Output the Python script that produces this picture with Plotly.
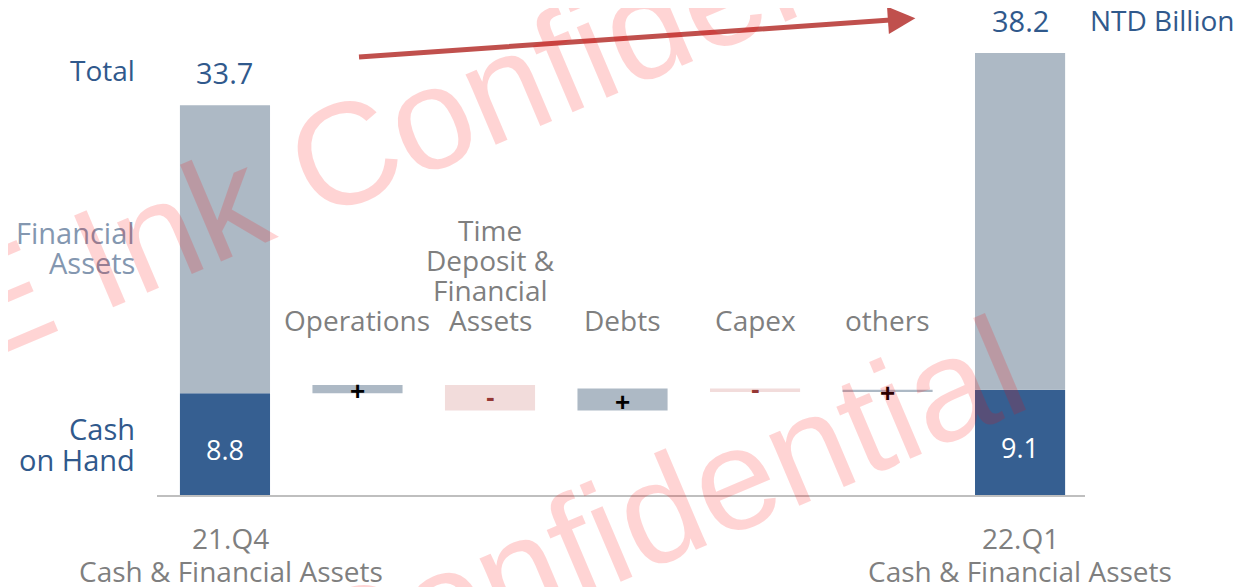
import plotly.graph_objects as go

# ---------------- data ----------------
period_labels = ["21.Q4", "22.Q1"]
period_subtitle = "Cash & Financial Assets"
cash_on_hand = [8.8, 9.1]
total_assets = [33.7, 38.2]
flow_labels = [["Operations"], ["Time", "Deposit &", "Financial", "Assets"], ["Debts"], ["Capex"], ["others"]]
flow_values = [0.7, -2.2, 1.9, -0.3, 0.2]
unit_label = "NTD Billion"
watermark_text = "E Ink Confidential"

# ---------------- styles ----------------
DARK_BLUE = "#365f91"
LIGHT_GREY = "#adb9c5"
PINK = "#f2dcdb"
TEXT_BLUE = "#30598c"
GREY_TEXT = "#7f7f7f"
FIN_TEXT = "#8497b0"
ARROW_RED = "#c0504d"
MINUS_RED = "#953735"
FONT = "Open Sans"

financial_assets = [t - c for t, c in zip(total_assets, cash_on_hand)]
period_x = [0, len(flow_values) + 1]
flow_x = list(range(1, len(flow_values) + 1))

flow_base = []
running = cash_on_hand[0]
for v in flow_values:
    flow_base.append(running)
    running += v

X_RANGE = [-0.513, 6.49]
Y_RANGE = [0, 39.33]
PAGE_OFF = 8          # default body margin of the html page
FIG_W, FIG_H = 1252, 579
M = dict(l=149, r=175, t=32, b=92)
PXU = 11.57           # pixels per y unit

def xp(x):
    return (x - X_RANGE[0]) / (X_RANGE[1] - X_RANGE[0])

def yp(y):
    return (y - Y_RANGE[0]) / (Y_RANGE[1] - Y_RANGE[0])

BW = 0.68
fig = go.Figure()
fig.add_trace(go.Bar(x=period_x, y=cash_on_hand, base=[0, 0], width=BW,
                     marker=dict(color=DARK_BLUE, line=dict(width=0)), hoverinfo="skip"))
fig.add_trace(go.Bar(x=period_x, y=financial_assets, base=cash_on_hand, width=BW,
                     marker=dict(color=LIGHT_GREY, line=dict(width=0)), hoverinfo="skip"))
fig.add_trace(go.Bar(x=flow_x, y=flow_values, base=flow_base, width=BW,
                     marker=dict(color=[LIGHT_GREY if v >= 0 else PINK for v in flow_values],
                                 line=dict(width=0)), hoverinfo="skip"))

ann = []

def txt(x, y, text, size, color, xanchor="center", yshift=0, xshift=0, family=FONT):
    ann.append(dict(x=xp(x), y=yp(y), xref="paper", yref="paper", text=text, showarrow=False,
                    font=dict(family=family, size=size, color=color),
                    xanchor=xanchor, yanchor="middle", yshift=yshift, xshift=xshift))

LEFT_X = -0.667

# totals
txt(period_x[0], total_assets[0], f"{total_assets[0]:.1f}", 29, TEXT_BLUE, yshift=33)
txt(period_x[1], total_assets[1], f"{total_assets[1]:.1f}", 29, TEXT_BLUE, yshift=33)
txt(6.51, total_assets[1], unit_label, 28, TEXT_BLUE, xanchor="left", yshift=33)
txt(LEFT_X, total_assets[0], "Total", 28, TEXT_BLUE, xanchor="right", yshift=35)

# left legend-like labels
txt(LEFT_X, 22.73, "Financial", 29, FIN_TEXT, xanchor="right")
txt(LEFT_X, 20.14, "Assets", 29, FIN_TEXT, xanchor="right")
txt(LEFT_X, 5.79, "Cash", 29, TEXT_BLUE, xanchor="right")
txt(LEFT_X, 3.03, "on Hand", 29, TEXT_BLUE, xanchor="right")

# cash values inside bars
for x, c in zip(period_x, cash_on_hand):
    txt(x, c / 2, f"{c:.1f}", 27, "white", yshift=-5)

# flow category labels (bottom-aligned lines)
line_step = 30 / PXU
for x, lines in zip(flow_x, flow_labels):
    n = len(lines)
    for i, line in enumerate(lines):
        txt(x, 15.13 + (n - 1 - i) * line_step, line, 28, GREY_TEXT)

# signs on flow bars
for x, b, v in zip(flow_x, flow_base, flow_values):
    mid = b + v / 2
    if v >= 0:
        txt(x, mid, "<b>+</b>", 26, "black", yshift=-2, family="Liberation Sans")
    else:
        txt(x, mid, "<b>-</b>", 26, MINUS_RED, yshift=1, family="Liberation Sans")

# period labels below axis
for x, lab, sh in zip(period_x, period_labels, [6, 0]):
    txt(x, -3.72, lab, 28, GREY_TEXT, xshift=sh)
    txt(x, -6.57, period_subtitle, 28, GREY_TEXT, xshift=sh)

# growth arrow
ann.append(dict(x=5.21, y=41.2, ax=1.0, ay=37.86, xref="x", yref="y", axref="x", ayref="y",
                text="", showarrow=True, arrowhead=2, arrowsize=1.1, arrowwidth=5,
                arrowcolor=ARROW_RED, standoff=0, startstandoff=0))

# watermarks (centres in page pixels)
for cx, cy in [(478, 98), (492, 582)]:
    ann.append(dict(x=(cx - PAGE_OFF - M["l"]) / (FIG_W - M["l"] - M["r"]),
                    y=1 - (cy - PAGE_OFF - M["t"]) / (FIG_H - M["t"] - M["b"]),
                    xref="paper", yref="paper",
                    text=watermark_text, showarrow=False, textangle=-23,
                    font=dict(family="Liberation Sans", size=145, color="rgba(255,0,0,0.17)"),
                    xanchor="center", yanchor="middle"))

fig.update_layout(
    width=FIG_W, height=FIG_H,
    margin=M,
    paper_bgcolor="white", plot_bgcolor="white",
    barmode="overlay", showlegend=False,
    xaxis=dict(range=X_RANGE, showgrid=False, showticklabels=False, ticks="",
               zeroline=False, showline=True, linecolor="#bfbfbf", linewidth=2, fixedrange=True),
    yaxis=dict(range=Y_RANGE, visible=False, fixedrange=True),
    annotations=ann,
)

fig.write_html("out.html")
